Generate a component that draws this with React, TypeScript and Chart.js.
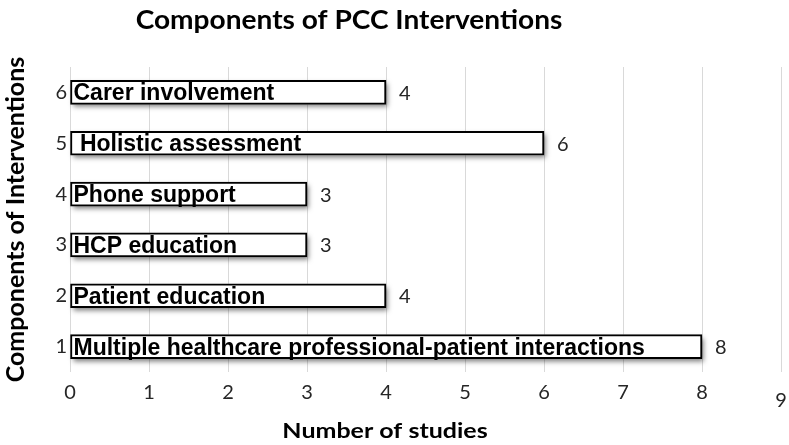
import React, { useEffect, useRef } from 'react';
import { Chart, registerables } from 'chart.js';

Chart.register(...registerables);

// ---- data ----
const yCategories = ['6', '5', '4', '3', '2', '1'];
const componentNames = [
  'Carer involvement',
  ' Holistic assessment',
  'Phone support',
  'HCP education',
  'Patient education',
  'Multiple healthcare professional-patient interactions',
];
const studyCounts = [4, 6, 3, 3, 4, 8];
const xMin = 0;
const xMax = 9;
const xStep = 1;
const chartTitle = 'Components of PCC Interventions';
const xAxisTitle = 'Number of studies';
const yAxisTitle = 'Components of Interventions';

const TICK_FONT = 'Lato';
const BOLD_FONT = 'Lato';
const TICK_SIZE = 20;

const shadowPlugin = {
  id: 'barShadow',
  beforeDatasetsDraw(chart: any) {
    const ctx = chart.ctx;
    const meta = chart.getDatasetMeta(0);
    ctx.save();
    ctx.shadowColor = 'rgba(0,0,0,0.5)';
    ctx.shadowBlur = 5;
    ctx.shadowOffsetX = 2;
    ctx.shadowOffsetY = 3;
    ctx.fillStyle = '#ffffff';
    meta.data.forEach((el: any) => {
      const { x, y, base, height } = el.getProps(['x', 'y', 'base', 'height'], true);
      ctx.fillRect(Math.min(base, x), y - height / 2, Math.abs(x - base), height);
    });
    ctx.restore();
  },
};

const labelPlugin = {
  id: 'barLabels',
  afterDatasetsDraw(chart: any) {
    const ctx = chart.ctx;
    const meta = chart.getDatasetMeta(0);
    ctx.save();
    meta.data.forEach((el: any, i: number) => {
      const { x, y, base } = el.getProps(['x', 'y', 'base'], true);
      ctx.font = 'bold 23px "Liberation Sans", Arial, sans-serif';
      ctx.fillStyle = '#000';
      ctx.textAlign = 'left';
      ctx.textBaseline = 'alphabetic';
      ctx.fillText(componentNames[i], base + 3, y + 8);
      ctx.font = `${TICK_SIZE}px ${TICK_FONT}`;
      ctx.fillStyle = '#262626';
      ctx.textBaseline = 'middle';
      ctx.fillText(String(studyCounts[i]), x + 13, y + 1);
    });
    ctx.restore();
  },
};

function drawStretched(ctx: any, text: string, cx: number, baseline: number, font: string, sx: number) {
  ctx.save();
  ctx.font = font;
  ctx.textAlign = 'center';
  ctx.textBaseline = 'alphabetic';
  ctx.translate(cx, baseline);
  ctx.scale(sx, 1);
  ctx.fillText(text, 0, 0);
  ctx.restore();
}

const titlePlugin = {
  id: 'customTitles',
  afterDraw(chart: any) {
    const ctx = chart.ctx;
    ctx.save();
    ctx.fillStyle = '#000';
    drawStretched(ctx, chartTitle, 349, 29, `bold 26px ${BOLD_FONT}`, 1.08);
    drawStretched(ctx, xAxisTitle, 385, 438, `bold 21px ${BOLD_FONT}`, 1.19);
    ctx.restore();
  },
};

export default function App() {
  const canvasRef = useRef<HTMLCanvasElement | null>(null);

  useEffect(() => {
    if (!canvasRef.current) return;
    const chart = new Chart(canvasRef.current, {
      type: 'bar',
      data: {
        labels: yCategories,
        datasets: [
          {
            data: studyCounts,
            backgroundColor: '#ffffff',
            borderColor: '#000000',
            borderWidth: 2,
            borderSkipped: false,
            barThickness: 24,
          },
        ],
      },
      options: {
        indexAxis: 'y',
        responsive: false,
        animation: false,
        devicePixelRatio: 1,
        layout: { padding: { top: 67, right: 8, left: 0, bottom: 0 } },
        plugins: {
          legend: { display: false },
          title: { display: false },
          tooltip: { enabled: false },
        },
        scales: {
          x: {
            type: 'linear',
            min: xMin,
            max: xMax,
            border: { display: false },
            grid: { color: '#d9d9d9', lineWidth: 1, drawTicks: false },
            ticks: {
              stepSize: xStep,
              padding: 9,
              color: '#262626',
              maxRotation: 0,
              autoSkip: false,
              font: (ctx: any) => ({
                family: TICK_FONT,
                size: TICK_SIZE,
                lineHeight: ctx.tick && ctx.tick.value === xMax ? '13px' : 1.2,
              }),
              callback: (v: any) => (v === xMax ? ['', String(v)] : String(v)),
            },
            afterFit: (scale: any) => {
              scale.height = 73;
              scale.paddingLeft = 0;
              scale.paddingRight = 0;
            },
          },
          y: {
            type: 'category',
            border: { display: false },
            grid: { display: false, drawTicks: false },
            ticks: {
              padding: 3,
              color: '#262626',
              font: { family: TICK_FONT, size: TICK_SIZE },
            },
            title: {
              display: true,
              text: yAxisTitle,
              color: '#000',
              font: { family: BOLD_FONT, size: 25, weight: 'bold' },
              padding: { top: 1, bottom: 0 },
            },
            afterFit: (scale: any) => {
              scale.width = 70;
              scale.paddingTop = 0;
              scale.paddingBottom = 0;
            },
          },
        },
      },
      plugins: [shadowPlugin, labelPlugin, titlePlugin],
    });
    return () => chart.destroy();
  }, []);

  return (
    <div style={{ position: 'absolute', left: 0, top: 0, width: 789, height: 445, background: '#fff' }}>
      <canvas ref={canvasRef} width={789} height={445} style={{ display: 'block' }} />
    </div>
  );
}
